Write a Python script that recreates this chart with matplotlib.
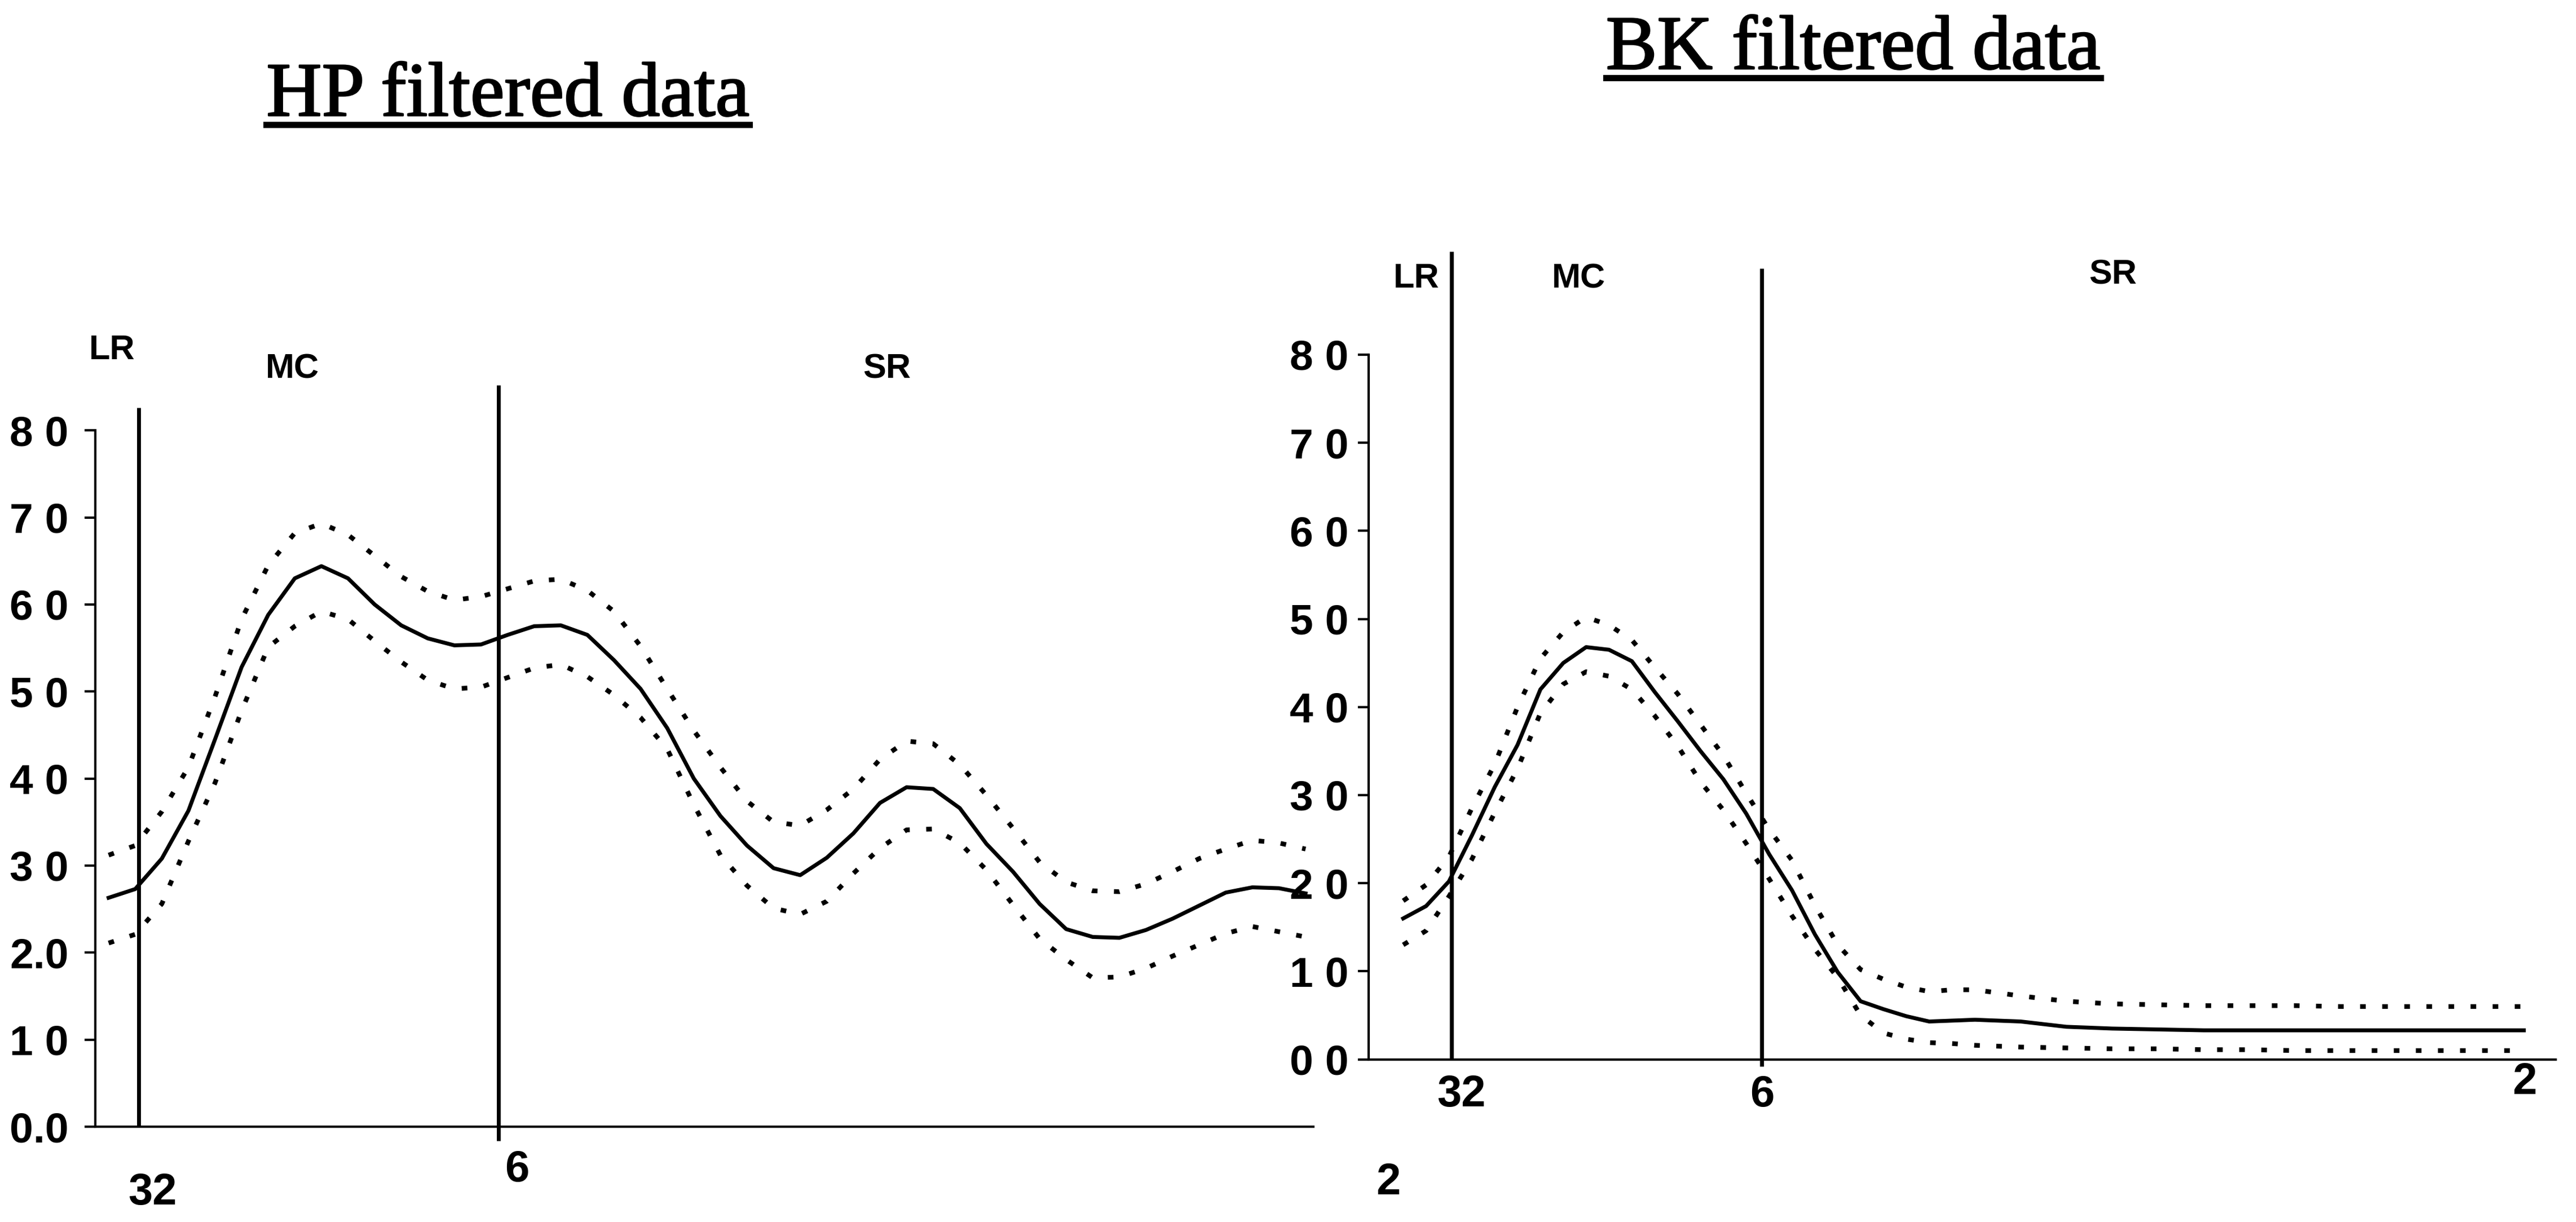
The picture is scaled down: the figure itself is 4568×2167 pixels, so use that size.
import matplotlib
matplotlib.use("Agg")
import matplotlib.pyplot as plt
from matplotlib import patheffects
from matplotlib.lines import Line2D

# frequency in cycles per quarter (1 / period)
hp_freq = [0.02, 0.03, 0.04, 0.05, 0.06, 0.07, 0.08, 0.09, 0.10, 0.11,
           0.12, 0.13, 0.14, 0.15, 0.16, 0.17, 0.18, 0.19, 0.20, 0.21,
           0.22, 0.23, 0.24, 0.25, 0.26, 0.27, 0.28, 0.29, 0.30, 0.31,
           0.32, 0.33, 0.34, 0.35, 0.36, 0.37, 0.38, 0.39, 0.40, 0.41,
           0.42, 0.43, 0.44, 0.45, 0.46, 0.47]
hp_coh = [26.3, 27.3, 30.8, 36.3, 44.5, 52.8, 58.8, 63.0, 64.4, 63.0,
          60.0, 57.6, 56.1, 55.3, 55.4, 56.5, 57.5, 57.6, 56.5, 53.6,
          50.3, 45.8, 40.0, 35.7, 32.3, 29.7, 28.9, 30.9, 33.7, 37.2,
          39.0, 38.8, 36.6, 32.5, 29.3, 25.6, 22.7, 21.8, 21.7, 22.6,
          23.9, 25.4, 26.9, 27.5, 27.4, 26.8]
hp_upper = [31.2, 32.3, 36.2, 41.3, 49.4, 58.3, 64.5, 68.2, 69.3, 68.0,
            65.6, 63.2, 61.5, 60.5, 60.9, 61.8, 62.7, 62.9, 61.6, 59.2,
            55.2, 50.3, 45.5, 41.3, 37.4, 35.0, 34.6, 36.4, 38.8, 42.2,
            44.3, 44.0, 41.6, 38.1, 34.3, 30.4, 28.1, 27.1, 27.0, 27.9,
            29.3, 30.8, 31.9, 32.9, 32.6, 31.9]
hp_lower = [21.1, 22.1, 25.6, 32.8, 39.5, 47.8, 55.1, 57.5, 59.2, 58.3,
            55.8, 53.4, 51.3, 50.3, 50.5, 51.6, 52.7, 53.1, 51.7, 49.6,
            47.0, 43.4, 37.0, 31.2, 27.7, 25.1, 24.4, 25.9, 29.1, 32.0,
            34.1, 34.2, 32.6, 29.5, 25.5, 21.6, 19.2, 17.1, 17.2, 18.2,
            19.6, 20.9, 22.2, 23.0, 22.4, 21.8]

bk_freq = [0.01, 0.02, 0.03, 0.04, 0.05, 0.06, 0.07, 0.08, 0.09, 0.10,
           0.11, 0.12, 0.13, 0.14, 0.15, 0.16, 0.17, 0.18, 0.19, 0.20,
           0.21, 0.22, 0.23, 0.24, 0.25, 0.26, 0.28, 0.30, 0.32, 0.34,
           0.36, 0.38, 0.40, 0.42, 0.44, 0.46, 0.48, 0.50]
bk_coh = [16.0, 17.4, 20.2, 25.4, 30.9, 35.7, 42.0, 45.0, 46.8, 46.5,
          45.2, 41.7, 38.4, 35.0, 31.8, 27.9, 23.3, 19.2, 14.2, 9.9,
          6.6, 5.7, 4.9, 4.3, 4.4, 4.5, 4.3, 3.7, 3.5, 3.4,
          3.3, 3.3, 3.3, 3.3, 3.3, 3.3, 3.3, 3.3]
bk_upper = [18.0, 19.8, 23.0, 28.5, 33.5, 40.0, 45.5, 48.5, 50.2, 49.3,
            47.6, 44.5, 41.5, 38.0, 34.5, 30.2, 26.1, 22.6, 17.5, 13.0,
            10.2, 9.1, 8.2, 7.7, 7.9, 7.9, 7.2, 6.6, 6.3, 6.2,
            6.1, 6.1, 6.1, 6.0, 6.0, 6.0, 6.0, 6.0]
bk_lower = [13.0, 14.6, 18.5, 22.7, 28.0, 33.0, 39.3, 42.6, 44.0, 43.5,
            42.0, 39.0, 35.6, 31.5, 28.3, 24.5, 20.5, 16.3, 12.5, 9.3,
            5.0, 3.0, 2.3, 1.9, 1.8, 1.6, 1.4, 1.3, 1.2, 1.2,
            1.1, 1.1, 1.0, 1.0, 1.0, 1.0, 1.0, 1.0]

periods = [32, 6, 2]            # periods (quarters) labelled on the axis
boundary_periods = [32, 6]      # long run | medium cycle | short run
regions = ["LR", "MC", "SR"]
y_ticks = [0, 10, 20, 30, 40, 50, 60, 70, 80]
hp_ytick_labels = ["0.0", "1 0", "2.0", "3 0", "4 0", "5 0", "6 0", "7 0", "8 0"]
bk_ytick_labels = ["0 0", "1 0", "2 0", "3 0", "4 0", "5 0", "6 0", "7 0", "8 0"]

W, H, DPI = 4568, 2167, 100
NUM_FONT = dict(family=["Liberation Sans", "DejaVu Sans"], fontweight="bold")
DOTS = (0, (1.2, 3.5))

fig = plt.figure(figsize=(W / DPI, H / DPI), dpi=DPI)


def draw_panel(rect, xlim, x_end, freq, coh, upper, lower, ytick_labels,
               ypad, line_bottoms, line_tops, region_xy, period_offsets):
    ax = fig.add_axes(rect)
    ax.set_facecolor("none")
    ax.set_xlim(*xlim)
    ax.set_ylim(-8, 92)

    for side in ("top", "right"):
        ax.spines[side].set_visible(False)
    ax.spines["left"].set_bounds(0, 80)
    ax.spines["left"].set_linewidth(3)
    ax.spines["bottom"].set_position(("data", 0))
    ax.spines["bottom"].set_bounds(xlim[0], x_end)
    ax.spines["bottom"].set_linewidth(3)

    ax.set_yticks(y_ticks, labels=ytick_labels, fontsize=54, **NUM_FONT)
    ax.tick_params(axis="y", length=14, width=3, pad=ypad)
    ax.set_xticks([])

    # regime boundaries
    ax.vlines([1 / p for p in boundary_periods], line_bottoms, line_tops,
              color="black", lw=5)

    ax.plot(freq, coh, color="black", lw=5, solid_joinstyle="round")
    ax.plot(freq, upper, color="black", lw=6, linestyle=DOTS)
    ax.plot(freq, lower, color="black", lw=6, linestyle=DOTS)

    for name, (x, y) in zip(regions, region_xy):
        ax.text(x, y, name, ha="center", va="center", fontsize=44,
                family="Liberation Sans", fontweight="bold")

    for p, (dx, dy) in zip(periods, period_offsets):
        ax.annotate(str(p), xy=(1 / p, 0), xytext=(dx, dy),
                    textcoords="offset points", ha="center", va="top",
                    fontsize=56, annotation_clip=False, **NUM_FONT)
    return ax


draw_panel([0.0370, 0.0210, 0.5008, 0.7123], (0.015, 0.50), 0.473,
           hp_freq, hp_coh, hp_upper, hp_lower, hp_ytick_labels, 20,
           [0.0, -1.6], [82.6, 85.2],
           [(0.0212, 89.2), (0.0891, 87.0), (0.3127, 87.0)],
           [(18, -58), (23, -29), (4, -45)])

draw_panel([0.5314, 0.0754, 0.4661, 0.7209], (-0.005, 0.52), 0.514,
           bk_freq, bk_coh, bk_upper, bk_lower, bk_ytick_labels, 12,
           [0.0, -0.8], [91.7, 89.8],
           [(0.0157, 88.6), (0.0867, 88.6), (0.3203, 89.0)],
           [(12, -19), (1, -19), (1, -3)])

# underlined serif titles
titles = []
for x, y, s in [(0.1972, 0.9054, "HP filtered data"),
                (0.7194, 0.9437, "BK filtered data")]:
    t = fig.text(x, y, s, ha="center", va="baseline", fontsize=98,
                 family="Liberation Serif",
                 path_effects=[patheffects.withStroke(linewidth=2, foreground="black")])
    titles.append((t, y))

fig.canvas.draw()
renderer = fig.canvas.get_renderer()
for t, y in titles:
    bb = t.get_window_extent(renderer)
    yl = y - 16 / H
    fig.add_artist(Line2D([bb.x0 / W, bb.x1 / W], [yl, yl],
                          transform=fig.transFigure, color="black", lw=8))

fig.savefig("out.png", dpi=DPI)
